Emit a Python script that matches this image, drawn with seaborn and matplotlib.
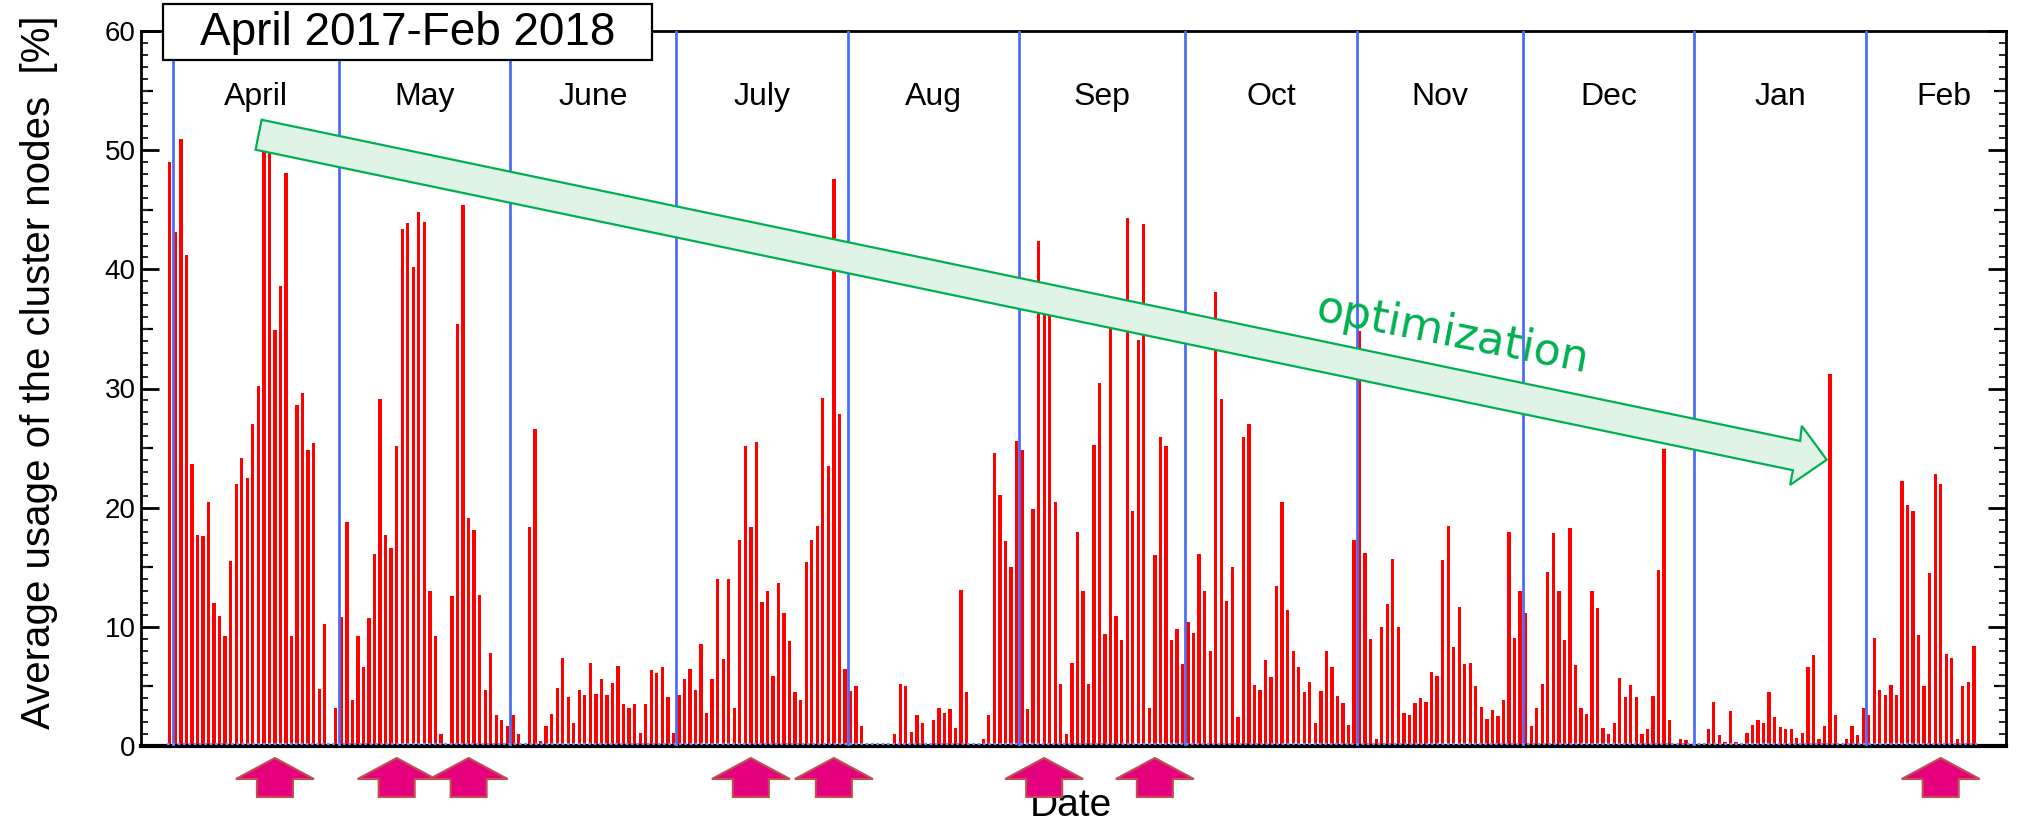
import numpy as np
import pandas as pd
import matplotlib
matplotlib.use("Agg")
import matplotlib.pyplot as plt
from matplotlib.patches import Polygon, Rectangle
from matplotlib.ticker import MultipleLocator, NullFormatter
import seaborn as sns

# ---- daily average usage of the cluster nodes [%] ----
first_day = "2017-03-31"

usage_mar = [49.0]
usage_apr = [43.1, 50.9, 41.2, 23.7, 17.7, 17.6, 20.5, 12.0, 10.9, 9.2,
             15.5, 22.0, 24.2, 22.5, 27.0, 30.2, 49.9, 50.6, 34.9, 38.6,
             48.1, 9.2, 28.6, 29.6, 24.8, 25.4, 4.8, 10.2, 0.1, 3.2]
usage_may = [10.8, 18.8, 3.9, 9.2, 6.6, 10.7, 16.1, 29.1, 17.7, 16.6,
             25.2, 43.4, 43.9, 40.2, 44.8, 44.0, 13.0, 9.2, 1.0, 0.1,
             12.6, 35.4, 45.4, 19.1, 18.1, 12.7, 4.7, 7.8, 2.6, 2.2, 1.7]
usage_jun = [2.6, 1.0, 0.2, 18.4, 26.6, 0.4, 1.7, 2.7, 4.9, 7.4,
             4.1, 1.9, 4.7, 4.3, 7.0, 4.4, 5.6, 4.3, 5.3, 6.7,
             3.5, 3.2, 3.5, 1.1, 3.5, 6.4, 6.1, 6.6, 4.1, 1.1]
usage_jul = [4.3, 5.6, 6.5, 4.7, 8.6, 2.8, 5.6, 14.0, 7.3, 14.0,
             3.2, 17.3, 25.2, 18.4, 25.5, 12.1, 13.0, 5.9, 13.7, 11.2,
             8.8, 4.5, 3.9, 15.4, 17.3, 18.5, 29.2, 23.5, 47.6, 27.9, 6.5]
usage_aug = [4.6, 5.0, 1.7, 0.1, 0.1, 0.1, 0.1, 0.1, 1.0, 5.2,
             5.0, 1.2, 2.6, 1.9, 0.2, 2.2, 3.2, 2.8, 3.1, 1.5,
             13.1, 4.5, 0.1, 0.1, 0.6, 2.6, 24.6, 21.1, 17.2, 15.0, 25.6]
usage_sep = [24.8, 3.1, 19.9, 42.4, 37.7, 36.1, 20.5, 5.2, 1.0, 7.0,
             18.0, 13.0, 5.2, 25.3, 30.5, 9.4, 37.1, 10.9, 8.9, 44.3,
             19.7, 34.1, 43.8, 3.2, 16.0, 25.9, 25.2, 8.9, 9.8, 6.9]
usage_oct = [10.4, 9.5, 16.1, 13.0, 8.0, 38.1, 29.1, 12.2, 15.0, 2.4,
             25.9, 27.0, 5.1, 4.7, 7.2, 5.8, 13.4, 20.5, 11.4, 8.0,
             6.6, 4.5, 5.4, 1.9, 4.6, 8.0, 6.6, 4.2, 3.6, 1.8, 17.3]
usage_nov = [34.8, 16.2, 9.0, 0.6, 10.0, 11.9, 15.7, 10.0, 2.8, 2.6,
             3.6, 4.0, 3.7, 6.2, 5.9, 15.6, 18.5, 8.3, 11.7, 6.9,
             7.0, 5.0, 3.3, 2.3, 3.0, 2.5, 3.9, 18.0, 9.1, 13.0]
usage_dec = [11.2, 1.7, 3.2, 5.2, 14.6, 17.9, 13.0, 8.9, 18.3, 6.8,
             3.2, 2.7, 13.0, 11.6, 1.5, 1.0, 1.9, 5.7, 4.1, 5.1,
             4.1, 1.0, 1.4, 4.2, 14.8, 24.9, 2.2, 0.2, 0.6, 0.5, 0.1]
usage_jan = [0.1, 0.1, 1.4, 3.7, 0.9, 0.3, 2.9, 0.3, 0.1, 1.1,
             1.8, 2.2, 1.9, 4.5, 2.4, 1.6, 1.4, 1.4, 0.7, 1.1,
             6.6, 7.6, 0.6, 1.7, 31.2, 2.6, 0.1, 0.6, 1.7, 0.9, 3.2]
usage_feb = [2.6, 9.1, 4.7, 4.3, 5.1, 4.3, 22.2, 20.2, 19.7, 9.3,
             5.0, 14.5, 22.8, 22.0, 7.7, 7.4, 0.6, 5.0, 5.4, 8.4]

month_labels = ["April", "May", "June", "July", "Aug", "Sep",
                "Oct", "Nov", "Dec", "Jan", "Feb"]
month_starts = ["2017-04-01", "2017-05-01", "2017-06-01", "2017-07-01",
                "2017-08-01", "2017-09-01", "2017-10-01", "2017-11-01",
                "2017-12-01", "2018-01-01", "2018-02-01"]
month_lengths = [30, 31, 30, 31, 31, 30, 31, 30, 31, 31, 28]

# days singled out with the magenta markers under the axis
highlight_days = ["2017-04-19", "2017-05-11", "2017-05-24", "2017-07-14",
                  "2017-07-29", "2017-09-05", "2017-09-25", "2018-02-14"]

title_text = "April 2017-Feb 2018"
y_label = "Average usage of the cluster nodes  [%]"
x_label = "Date"
trend_label = "optimization"

# ---- assemble the table ----
usage = np.concatenate([usage_mar, usage_apr, usage_may, usage_jun, usage_jul,
                        usage_aug, usage_sep, usage_oct, usage_nov, usage_dec,
                        usage_jan, usage_feb])
t0 = pd.Timestamp(first_day)
df = pd.DataFrame({"day": np.arange(len(usage)), "usage": usage})
n_days = len(df)


def day_index(date_str):
    return (pd.Timestamp(date_str) - t0).days


W, H = 2018, 819
sns.set_theme(style="white")
plt.rcParams["font.family"] = ["Liberation Sans", "DejaVu Sans"]

fig = plt.figure(figsize=(W / 100, H / 100), dpi=100)
fig.patch.set_facecolor("white")
left_px, right_px, top_px, bottom_px = 141, 2006, 31, 746
ax = fig.add_axes([left_px / W, (H - bottom_px) / H,
                   (right_px - left_px) / W, (bottom_px - top_px) / H])

sns.barplot(data=df, x="day", y="usage", native_scale=True, color="#ff0000",
            saturation=1, width=0.6, errorbar=None, linewidth=0, ax=ax,
            zorder=2)

ax.set_xlim(-5.2, n_days - 1 + 5.8)
ax.set_ylim(0, 60)
ax.set_xlabel("")
ax.set_ylabel("")

# month separators and names
for name, start, length in zip(month_labels, month_starts, month_lengths):
    i0 = day_index(start)
    ax.axvline(i0 - 0.5, color="#4b6ef5", lw=2.0, zorder=3)
    ax.text(i0 - 0.5 + length / 2, 54.5, name, ha="center", va="center",
            fontsize=23, color="black", zorder=5)

# dotted baseline under the bars
ax.hlines(0.15, -0.5, n_days - 0.5, colors="#7090ff",
          linestyles=(0, (1.2, 1.2)), lw=1.6, zorder=4)

# axis ticks: long every 10, medium every 5, short every 1
ax.yaxis.set_major_locator(MultipleLocator(10))
ax.yaxis.set_minor_locator(MultipleLocator(1))
ax.tick_params(axis="y", which="major", direction="in", length=13, width=2.0,
               left=True, right=True, labelsize=20, pad=4, colors="black")
ax.tick_params(axis="y", which="minor", direction="in", length=5, width=1.4,
               left=True, right=True)
ax.tick_params(axis="x", bottom=False, labelbottom=False)
for side in ("left", "right"):
    sec = ax.secondary_yaxis(side)
    sec.set_yticks(np.arange(5, 60, 10))
    sec.yaxis.set_major_formatter(NullFormatter())
    sec.tick_params(direction="in", length=8.5, width=1.6, colors="black")
    for sp in sec.spines.values():
        sp.set_visible(False)

for side, lw in (("top", 2.0), ("bottom", 3.0), ("left", 2.0), ("right", 2.0)):
    ax.spines[side].set_visible(True)
    ax.spines[side].set_color("black")
    ax.spines[side].set_linewidth(lw)
ax.grid(False)

# green trend arrow, in (day, %) coordinates
trend_arrow = [(16.6, 52.55), (294.6, 25.6), (294.9, 26.86), (299.4, 24.02),
               (292.8, 21.91), (293.3, 23.14), (15.5, 50.04)]
ax.add_patch(Polygon(trend_arrow, closed=True, facecolor="#dff4e6",
                     edgecolor="#00b050", lw=1.6, zorder=4, clip_on=False))
ax.text(231.3, 33.5, trend_label, rotation=-11.0,
        rotation_mode="anchor", ha="center", va="baseline", fontsize=32,
        color="#00b050", family="DejaVu Sans", zorder=5)

# title box
fig.add_artist(Rectangle((163 / W, 1 - 60 / H), (652 - 163) / W, 56 / H,
                         transform=fig.transFigure, facecolor="white",
                         edgecolor="black", lw=1.6, zorder=10))
fig.text(407.5 / W, 1 - 33 / H, title_text, ha="center", va="center",
         fontsize=33, color="black", zorder=11)

# axis titles
fig.text(39 / W, 1 - 372 / H, y_label, rotation=90, ha="center", va="center",
         fontsize=29, color="black")
fig.text(1071 / W, 3 / H, x_label, ha="center", va="baseline",
         fontsize=28, color="black", zorder=5)

# magenta up-arrows under the highlighted days
to_fig = fig.transFigure.inverted()
shape = [(0, 0), (39, 21), (18, 21), (18, 39), (-18, 39), (-18, 21), (-39, 21)]
for d in highlight_days:
    xc = ax.transData.transform((day_index(d), 0))[0]
    pts = [to_fig.transform((xc + dx, H - (758 + dy))) for dx, dy in shape]
    fig.add_artist(Polygon(pts, closed=True, transform=fig.transFigure,
                           facecolor="#e5007d", edgecolor="#c0504d", lw=1.5,
                           zorder=12))

fig.savefig("out.png", dpi=100, facecolor="white")
